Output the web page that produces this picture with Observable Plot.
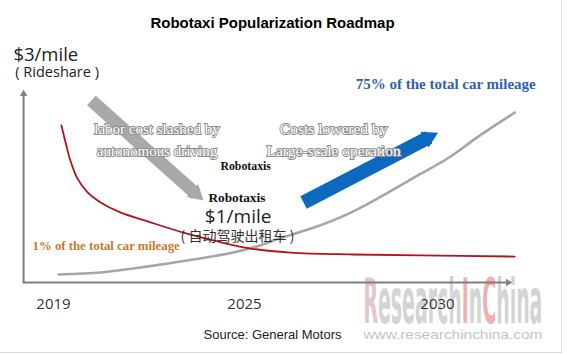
<!DOCTYPE html>
<html>
<head>
<meta charset="utf-8">
<script src="https://cdn.jsdelivr.net/npm/d3@7"></script>
<script src="https://cdn.jsdelivr.net/npm/@observablehq/plot@0.6"></script>
<style>
  html, body { margin: 0; padding: 0; background: #fff; }
  svg { display: block; }
</style>
</head>
<body>
<div id="chart"></div>
<script>
// ---------------- data ----------------
const tickYears = [2019, 2025, 2030];

// cost per mile curve (red, falling)
const costYears  = [2019.25, 2019.38, 2019.53, 2019.75, 2020.07, 2020.48, 2021.1, 2022.05, 2023.08, 2024.15, 2025.16, 2026.2, 2027.75, 2029.55, 2032.0];
const costValues = [81.8, 72.9, 63.5, 54.2, 46.9, 41.7, 36.5, 31.3, 26.0, 21.4, 17.7, 15.6, 14.6, 14.1, 13.5];

// share of total car mileage curve (gray, rising)
const shareYears  = [2019.16, 2020.48, 2021.5, 2022.6, 2023.6, 2024.65, 2025.4, 2025.9, 2026.8, 2027.7, 2028.5, 2029.4, 2030.3, 2031.1, 2032.0];
const shareValues = [4.2, 5.2, 7.3, 9.9, 12.5, 15.6, 19.3, 22.9, 28.6, 35.9, 44.3, 54.7, 65.1, 76.6, 88.5];

// axis geometry (in data units)
const axisOriginYear = 2018.06;
const axisXEndYear   = 2031.76;
const axisXHeadYear  = 2031.83;
const axisYTopValue  = 97.4;
const axisYHeadValue = 98.2;

// big annotation arrows: [tail, head]
const grayArrowYears  = [2020.19, 2023.48];
const grayArrowValues = [94.8, 46.1];
const blueArrowYears  = [2026.53, 2029.78];
const blueArrowValues = [41.7, 75.6];

// texts
const titleText  = "Robotaxi Popularization Roadmap";
const sourceText = "Source: General Motors";
const costTopTexts   = ["$3/mile", "( Rideshare )"];
const costTopYears   = [2017.74, 2017.80];
const costTopValues  = [118.6, 109.7];
const laborTexts  = ["labor cost slashed by", "autonomous driving"];
const laborYears  = [2022.25, 2022.25];
const laborValues = [80.1, 68.6];
const scaleTexts  = ["Costs lowered by", "Large-scale operation"];
const scaleYears  = [2027.31, 2027.31];
const scaleValues = [80.1, 68.6];
const robotaxiTexts  = ["Robotaxis", "Robotaxis"];
const robotaxiYears  = [2025.03, 2024.76];
const robotaxiValues = [60.8, 43.9];
const oneDollarText  = ["$1/mile"];
const oneDollarYear  = [2024.8];
const oneDollarValue = [34.4];
const cnText   = ["( 自动驾驶出租车 )"];
const cnYear   = [2024.78];
const cnValue  = [24.0];
const shareLowText  = ["1% of the total car mileage"];
const shareLowYear  = [2018.34];
const shareLowValue = [18.9];
const shareHighText  = ["75% of the total car mileage"];
const shareHighYear  = [2027.88];
const shareHighValue = [103.5];
const watermarkText  = ["ResearchInChina"];
const watermarkYear  = [2028.08];
const watermarkValue = [-11.0];
const urlText  = ["www.researchinchina.com"];
const urlYear  = [2028.08];
const urlValue = [-27.0];

// ---------------- helpers ----------------
const pts = (xs, ys) => xs.map((x, i) => ({year: x, value: ys[i]}));
const sans  = "'Open Sans', 'Noto Sans', sans-serif";
const arial = "'Liberation Sans', Arial, sans-serif";
const serif = "'Liberation Serif', 'Times New Roman', serif";
const cjk   = "'Noto Sans CJK SC', 'Noto Sans', sans-serif";
const axisColor = "#7f7f7f";

const svg = Plot.plot({
  width: 567,
  height: 355,
  marginTop: 0, marginLeft: 0, marginRight: 6, marginBottom: 3,
  x: {type: "linear", domain: tickYears, range: [53, 244, 437]},
  y: {type: "linear", domain: [0, 100], range: [282, 90], axis: null},
  style: {background: "#fff", overflow: "visible"},
  marks: [
    Plot.frame({anchor: "right", stroke: "#dcdcdc"}),
    Plot.frame({anchor: "bottom", stroke: "#dcdcdc"}),

    // watermark
    Plot.text(pts(watermarkYear, watermarkValue), {
      x: "year", y: "value", text: () => watermarkText[0], textAnchor: "start", lineAnchor: "middle",
      fontSize: 62, fontWeight: "bold", fontFamily: "'Liberation Sans Narrow', 'DejaVu Sans Condensed', sans-serif", fill: "#d2d2d2"
    }),
    Plot.text(pts(urlYear, urlValue), {
      x: "year", y: "value", text: () => urlText[0], textAnchor: "start", lineAnchor: "middle",
      fontSize: 13, fontFamily: arial, fill: "#c4c4c4"
    }),

    // axes with arrow heads
    Plot.line(pts([axisOriginYear, axisOriginYear], [0, axisYTopValue]), {x: "year", y: "value", stroke: axisColor, strokeWidth: 2}),
    Plot.line(pts([axisOriginYear, axisXEndYear], [0, 0]), {x: "year", y: "value", stroke: axisColor, strokeWidth: 2}),
    Plot.dot(pts([axisOriginYear], [axisYHeadValue]), {x: "year", y: "value", symbol: "triangle2", r: 3.5, fill: axisColor, rotate: 0}),
    Plot.dot(pts([axisXHeadYear], [0]), {x: "year", y: "value", symbol: "triangle2", r: 3.5, fill: axisColor, rotate: 90}),

    // curves
    Plot.line(pts(shareYears, shareValues), {x: "year", y: "value", stroke: "#a6a6a6", strokeWidth: 2.6, curve: "catmull-rom"}),
    Plot.line(pts(costYears, costValues), {x: "year", y: "value", stroke: "#b3141c", strokeWidth: 1.8, curve: "catmull-rom"}),

    // gray arrow
    Plot.line(pts(grayArrowYears, grayArrowValues), {x: "year", y: "value", stroke: "#a9a9a9", strokeWidth: 13, strokeLinecap: "butt"}),
    Plot.dot(pts([grayArrowYears[1]], [grayArrowValues[1]]), {x: "year", y: "value", symbol: "triangle2", r: 8.2, fill: "#a9a9a9", rotate: 131.8}),
    // blue arrow
    Plot.line(pts(blueArrowYears, blueArrowValues), {x: "year", y: "value", stroke: "#0c69bd", strokeWidth: 14, strokeLinecap: "butt"}),
    Plot.dot(pts([blueArrowYears[1]], [blueArrowValues[1]]), {x: "year", y: "value", symbol: "triangle2", r: 8.4, fill: "#0c69bd", rotate: 62.6}),

    // embossed white texts
    Plot.text(pts(laborYears, laborValues), {
      x: "year", y: "value", text: (d, i) => laborTexts[i], textAnchor: "middle", lineAnchor: "middle",
      fontSize: 15, fontFamily: serif, fill: "#fff", stroke: "#8c8c8c", strokeWidth: 1.8
    }),
    Plot.text(pts(scaleYears, scaleValues), {
      x: "year", y: "value", text: (d, i) => scaleTexts[i], textAnchor: "middle", lineAnchor: "middle",
      fontSize: 15.5, fontFamily: serif, fill: "#fff", stroke: "#8c8c8c", strokeWidth: 1.8
    }),

    // $3/mile
    Plot.text(pts([costTopYears[0]], [costTopValues[0]]), {
      x: "year", y: "value", text: () => costTopTexts[0], textAnchor: "start", lineAnchor: "middle",
      fontSize: 18.5, fontFamily: sans, fill: "#222"
    }),
    Plot.text(pts([costTopYears[1]], [costTopValues[1]]), {
      x: "year", y: "value", text: () => costTopTexts[1], textAnchor: "start", lineAnchor: "middle",
      fontSize: 14.5, fontFamily: sans, fill: "#222"
    }),

    // Robotaxis labels
    Plot.text(pts([robotaxiYears[0]], [robotaxiValues[0]]), {
      x: "year", y: "value", text: () => robotaxiTexts[0], textAnchor: "middle", lineAnchor: "middle",
      fontSize: 11.8, fontWeight: "bold", fontFamily: serif, fill: "#111"
    }),
    Plot.text(pts([robotaxiYears[1]], [robotaxiValues[1]]), {
      x: "year", y: "value", text: () => robotaxiTexts[1], textAnchor: "middle", lineAnchor: "middle",
      fontSize: 13.3, fontWeight: "bold", fontFamily: serif, fill: "#111"
    }),
    Plot.text(pts(oneDollarYear, oneDollarValue), {
      x: "year", y: "value", text: () => oneDollarText[0], textAnchor: "middle", lineAnchor: "middle",
      fontSize: 19, fontFamily: sans, fill: "#222"
    }),
    Plot.text(pts(cnYear, cnValue), {
      x: "year", y: "value", text: () => cnText[0], textAnchor: "middle", lineAnchor: "middle",
      fontSize: 14, fontFamily: cjk, fill: "#333"
    }),

    // share labels
    Plot.text(pts(shareLowYear, shareLowValue), {
      x: "year", y: "value", text: () => shareLowText[0], textAnchor: "start", lineAnchor: "middle",
      fontSize: 12.8, fontWeight: "bold", fontFamily: serif, fill: "#c8782e"
    }),
    Plot.text(pts(shareHighYear, shareHighValue), {
      x: "year", y: "value", text: () => shareHighText[0], textAnchor: "start", lineAnchor: "middle",
      fontSize: 15, fontWeight: "bold", fontFamily: serif, fill: "#2f62ad"
    }),

    // year tick labels
    Plot.axisX({
      ticks: tickYears, tickSize: 0, tickPadding: 0, tickFormat: d => String(d),
      label: null, dy: -54.6, fontSize: 15, fontFamily: sans, color: "#333", fill: "#333"
    }),

    // title & source
    Plot.text([titleText], {
      frameAnchor: "top", dx: -8.5, dy: 17.3, lineAnchor: "top",
      fontSize: 15, fontWeight: "bold", fontFamily: arial, fill: "#000"
    }),
    Plot.text([sourceText], {
      frameAnchor: "bottom", dx: -8.5, dy: -17.2, lineAnchor: "middle",
      fontSize: 13, fontFamily: arial, fill: "#222"
    })
  ]
});

// watermark colouring & condensing
d3.select(svg).selectAll("text").each(function() {
  const t = this.textContent;
  if (t === watermarkText[0]) {
    const el = d3.select(this);
    el.text(null);
    const parts = [["R", "#e4c6c6"], ["esearch", "#d4d4d4"], ["I", "#f0b0b0"], ["n", "#d4d4d4"], ["C", "#f0b0b0"], ["hina", "#d4d4d4"]];
    parts.forEach(([s, c]) => el.append("tspan").attr("fill", c).text(s));
    el.attr("textLength", 179).attr("lengthAdjust", "spacingAndGlyphs");
  } else if (t === urlText[0]) {
    d3.select(this).attr("textLength", 179).attr("lengthAdjust", "spacingAndGlyphs");
  }
});

document.getElementById("chart").appendChild(svg);
</script>
</body>
</html>
